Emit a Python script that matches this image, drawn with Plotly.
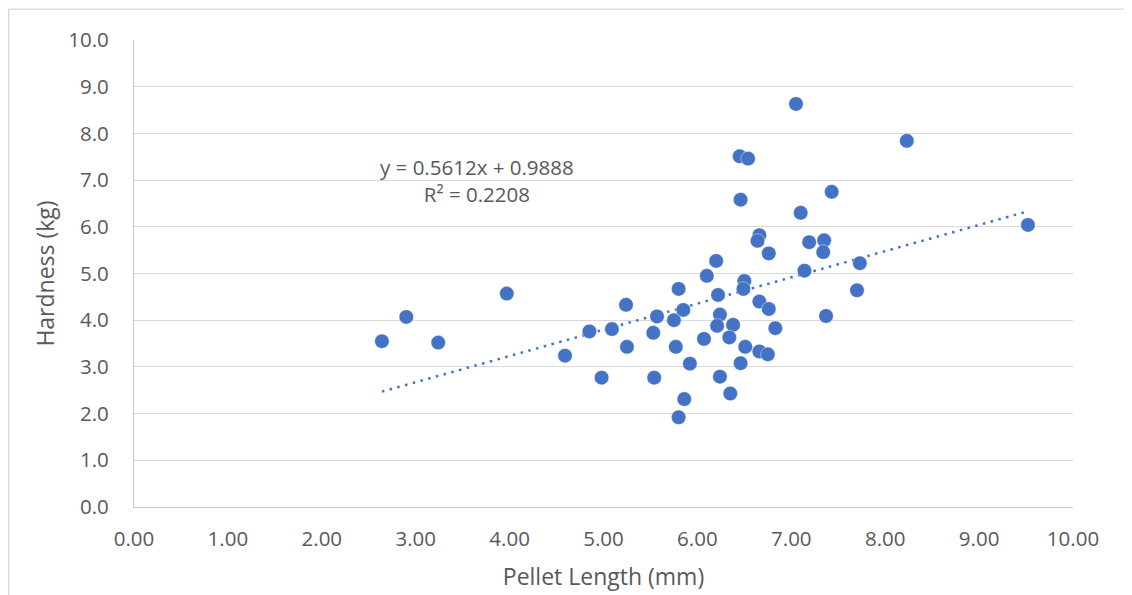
import plotly.graph_objects as go

# Data
pellet_length_mm = [
    2.64, 2.90, 3.24, 3.97, 4.59, 4.85, 4.98, 5.09, 5.24, 5.25,
    5.53, 5.54, 5.57, 5.75, 5.77, 5.80, 5.80, 5.85, 5.86, 5.92,
    6.07, 6.10, 6.20, 6.22, 6.24, 6.21, 6.38, 6.34, 6.24, 6.35,
    6.46, 6.50, 6.49, 6.51, 6.66, 6.64, 6.76, 7.19, 7.35, 7.34,
    7.14, 7.73, 7.70, 7.37, 6.66, 6.76, 6.83, 6.66, 6.75, 7.05,
    8.23, 6.45, 6.54, 6.46, 7.43, 7.10, 9.52,
]
hardness_kg = [
    3.55, 4.07, 3.52, 4.57, 3.24, 3.76, 2.77, 3.81, 4.33, 3.43,
    3.73, 2.77, 4.08, 4.00, 3.43, 1.92, 4.67, 4.22, 2.31, 3.07,
    3.60, 4.95, 5.27, 4.54, 4.12, 3.88, 3.90, 3.63, 2.79, 2.43,
    3.08, 4.84, 4.67, 3.43, 5.82, 5.70, 5.43, 5.67, 5.71, 5.46,
    5.06, 5.22, 4.64, 4.09, 4.40, 4.24, 3.83, 3.33, 3.27, 8.63,
    7.84, 7.51, 7.46, 6.58, 6.75, 6.30, 6.04,
]
trend_slope = 0.5612
trend_intercept = 0.9888
trend_r2 = 0.2208

x_ticks = [0, 1, 2, 3, 4, 5, 6, 7, 8, 9, 10]
y_ticks = [0, 1, 2, 3, 4, 5, 6, 7, 8, 9, 10]

BLUE = "#4472C4"
TXT = "#595959"
GRID = "#D9D9D9"
FONT = "Open Sans, Liberation Sans, sans-serif"

x_min = min(pellet_length_mm)
x_max = max(pellet_length_mm)
trend_x = [x_min, x_max]
trend_y = [trend_slope * v + trend_intercept for v in trend_x]

fig = go.Figure()
fig.add_trace(go.Scatter(
    x=trend_x, y=trend_y, mode="lines",
    line=dict(color=BLUE, width=2.5, dash="2.5px,5.5px"),
    hoverinfo="skip", showlegend=False,
))
fig.add_trace(go.Scatter(
    x=pellet_length_mm, y=hardness_kg, mode="markers",
    marker=dict(color=BLUE, size=14.5, line=dict(color="rgba(255,255,255,0.7)", width=0.6)),
    showlegend=False,
))

# The page body adds an 8px margin, so the figure is 8px smaller each way
W, H = 1124, 587
ml, mt = 125.5, 32.3
pw, ph = 939.8, 467.0
mr = W - ml - pw
mb = H - mt - ph

def px_x(p):
    return (p - ml) / pw

def px_y(p):
    return (H - mb - p) / ph

# Outer chart border (top and left edges visible in the crop)
fig.add_shape(type="line", xref="paper", yref="paper",
              x0=px_x(0), x1=px_x(1140), y0=px_y(1.5), y1=px_y(1.5),
              line=dict(color=GRID, width=1.3), layer="below")
fig.add_shape(type="line", xref="paper", yref="paper",
              x0=px_x(0), x1=px_x(0), y0=px_y(1.5), y1=px_y(600),
              line=dict(color=GRID, width=1.6), layer="below")

fig.add_annotation(
    x=3.65, y=7.0, xref="x", yref="y",
    text=f"y = {trend_slope:.4f}x + {trend_intercept:.4f}<br>R² = {trend_r2:.4f}",
    showarrow=False, align="center",
    font=dict(family=FONT, size=20.5, color=TXT),
)

fig.update_layout(
    width=W, height=H,
    margin=dict(l=ml, r=mr, t=mt, b=mb, pad=0, autoexpand=False),
    paper_bgcolor="white", plot_bgcolor="white",
    font=dict(family=FONT, color=TXT),
    xaxis=dict(
        range=[0, 10], tickvals=x_ticks, ticktext=[f"{v:.2f}" for v in x_ticks],
        showgrid=False, zeroline=False, showline=True, linecolor="#C9C9C9", linewidth=1.3,
        ticks="", ticklabelstandoff=13, automargin=False,
        tickfont=dict(family=FONT, size=20.5, color=TXT),
        title=dict(text="Pellet Length (mm)", font=dict(family=FONT, size=23, color=TXT), standoff=18),
        fixedrange=True,
    ),
    yaxis=dict(
        range=[0, 10], tickvals=y_ticks, ticktext=[f"{v:.1f}" for v in y_ticks],
        showgrid=True, gridcolor=GRID, gridwidth=1.3, zeroline=False,
        showline=True, linecolor="#C9C9C9", linewidth=1.3,
        ticks="", ticklabelstandoff=20, automargin=False,
        tickfont=dict(family=FONT, size=20.5, color=TXT),
        title=dict(text="Hardness (kg)", font=dict(family=FONT, size=23, color=TXT), standoff=7),
        fixedrange=True,
    ),
)

fig.write_html("out.html")
